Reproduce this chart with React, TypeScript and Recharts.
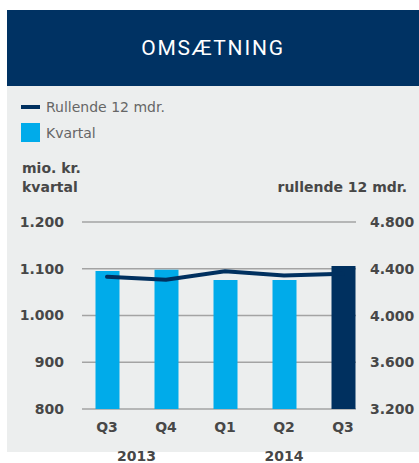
import { Bar, CartesianGrid, Cell, ComposedChart, Line, XAxis, YAxis } from "recharts";

const quarters = ["Q3", "Q4", "Q1", "Q2", "Q3"];
const years = ["2013", "2013", "2014", "2014", "2014"];
const quarterly = [1095, 1098, 1076, 1076, 1106];
const rolling = [4331, 4305, 4379, 4343, 4357];
const leftTicks = [800, 900, 1000, 1100, 1200];
const rightTicks = [3200, 3600, 4000, 4400, 4800];

const data = quarters.map((q, i) => ({
  q,
  year: years[i],
  quarterly: quarterly[i],
  rolling: rolling[i],
}));

const NAVY = "#00305f";
const SKY = "#00abea";
const TEXT = "#474747";
const FONT = "'DejaVu Sans', sans-serif";
const BAND = 59;

const fmt = (v: number) => v.toLocaleString("da-DK");

const tickStyle = { fill: TEXT, fontSize: 14, fontWeight: "bold", fontFamily: FONT };

function QuarterTick(props: any) {
  const { x, y, payload, index } = props;
  const yr = years[index];
  const first = index === 0 || years[index - 1] !== yr;
  const count = years.filter((v) => v === yr).length;
  return (
    <g>
      <text x={x} y={y} dy={5} textAnchor="middle" {...tickStyle}>
        {payload.value}
      </text>
      {first && (
        <text x={x + ((count - 1) / 2) * BAND} y={y + 29} dy={5} textAnchor="middle" {...tickStyle}>
          {yr}
        </text>
      )}
    </g>
  );
}

function RightTick(props: any) {
  const { y, payload } = props;
  // fixed start just right of the shortened grid lines
  return (
    <text x={370} y={y} dy={5} textAnchor="start" {...tickStyle}>
      {fmt(payload.value)}
    </text>
  );
}

export default function App() {
  return (
    <div style={{ position: "absolute", left: 0, top: 0, width: 419, height: 463, background: "#fff", fontFamily: FONT }}>
      <div
        style={{
          position: "absolute",
          left: 7,
          top: 10,
          width: 412,
          height: 76,
          background: "#003263",
          color: "#fff",
          display: "flex",
          alignItems: "center",
          justifyContent: "center",
          fontFamily: "Roboto, sans-serif",
          fontSize: 21,
          letterSpacing: 1.8,
        }}
      >
        OMSÆTNING
      </div>
      <div style={{ position: "absolute", left: 7, top: 86, width: 412, height: 366, background: "#eceeee" }} />
      <div style={{ position: "absolute", left: 21, top: 97, fontSize: 14, color: "#666", display: "flex", alignItems: "center", height: 19 }}>
        <span style={{ display: "inline-block", width: 19, height: 4, background: NAVY, marginRight: 6 }} />
        Rullende 12 mdr.
      </div>
      <div style={{ position: "absolute", left: 21, top: 123, fontSize: 14, color: "#666", display: "flex", alignItems: "center", height: 19 }}>
        <span style={{ display: "inline-block", width: 19, height: 19, background: SKY, marginRight: 6 }} />
        Kvartal
      </div>
      <div style={{ position: "absolute", left: 22, top: 159, fontSize: 14, fontWeight: "bold", color: TEXT, lineHeight: "19px" }}>
        mio. kr.
        <br />
        kvartal
      </div>
      <div style={{ position: "absolute", right: 12, top: 178, fontSize: 14, fontWeight: "bold", color: TEXT, lineHeight: "19px" }}>
        rullende 12 mdr.
      </div>
      <div style={{ position: "absolute", left: 0, top: 200 }}>
        <ComposedChart
          width={419}
          height={263}
          data={data}
          margin={{ top: 22, right: 0, bottom: 24, left: 0 }}
          barSize={24}
        >
          <CartesianGrid yAxisId="left" vertical={false} stroke="#a3a3a3" strokeWidth={1.5} x={82} width={274} />
          <XAxis
            dataKey="q"
            height={30}
            axisLine={false}
            tickLine={false}
            tickSize={0}
            tickMargin={18}
            tick={<QuarterTick />}
            interval={0}
          />
          <YAxis
            yAxisId="left"
            width={77.5}
            domain={[800, 1200]}
            ticks={leftTicks}
            tickFormatter={fmt}
            axisLine={false}
            tickLine={false}
            tickSize={0}
            tickMargin={13.5}
            tick={tickStyle}
          />
          <YAxis
            yAxisId="right"
            orientation="right"
            width={46.5}
            domain={[3200, 4800]}
            ticks={rightTicks}
            axisLine={false}
            tickLine={false}
            tick={<RightTick />}
          />
          <Bar yAxisId="left" dataKey="quarterly" isAnimationActive={false}>
            {data.map((_, i) => (
              <Cell key={i} fill={i === data.length - 1 ? NAVY : SKY} />
            ))}
          </Bar>
          <Line
            yAxisId="right"
            dataKey="rolling"
            type="linear"
            stroke={NAVY}
            strokeWidth={4}
            strokeLinecap="round"
            dot={false}
            isAnimationActive={false}
          />
        </ComposedChart>
      </div>
    </div>
  );
}
